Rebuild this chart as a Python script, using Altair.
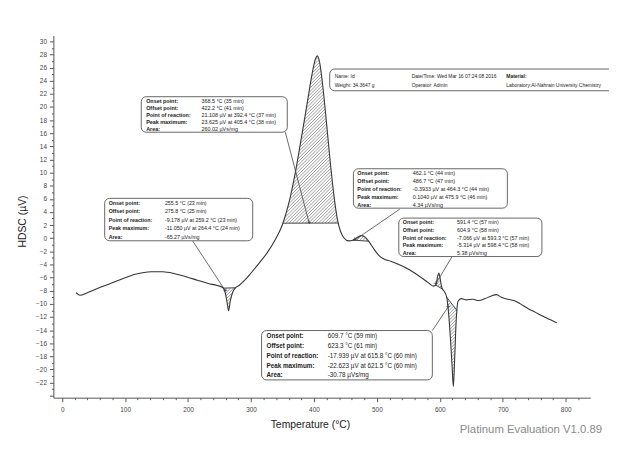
import altair as alt
import numpy as np
import pandas as pd

# ---------------- data ----------------
temperature = [22, 28, 40, 55, 74, 95, 116, 141, 160, 179, 198, 215, 232, 246, 255,
               259, 262, 264.4, 267, 271, 275, 281, 290, 300, 312, 325, 338, 350, 360, 370,
               380, 390, 397, 402, 405.4, 409, 414, 420, 426, 432, 437, 442, 448, 455, 462,
               470, 476, 482, 488, 495, 503, 512, 522, 535, 548, 560, 572, 582, 590, 594,
               596, 598.4, 600, 603, 607, 611, 614, 617, 619.5, 621.5, 623.5, 626, 629, 634, 642,
               652, 662, 672, 682, 690, 698, 708, 718, 728, 740, 752, 764, 775, 786]
hdsc = [-8.3, -8.7, -8.3, -7.7, -7.0, -6.2, -5.5, -5.1, -5.1, -5.4, -5.9, -6.4, -6.9, -7.2, -7.5,
        -8.3, -9.8, -11.05, -9.6, -8.2, -7.6, -7.2, -6.4, -5.3, -3.9, -2.3, -0.3, 2.1, 5.3, 9.8,
        15.3, 21.0, 25.0, 27.2, 27.8, 26.8, 23.2, 17.5, 11.5, 6.3, 3.0, 1.1, 0.0, -0.4, -0.3,
        0.2, 0.4, 0.1, -0.6, -1.6, -2.6, -3.2, -3.5, -4.0, -4.6, -5.3, -6.1, -6.8, -7.3, -7.1,
        -6.0, -5.3, -5.9, -7.5, -8.1, -9.0, -11.5, -15.5, -19.5, -22.6, -18.5, -12.5, -9.6, -9.2, -9.4,
        -9.3, -9.5, -9.2, -8.8, -8.6, -9.0, -9.3, -9.5, -10.0, -10.7, -11.3, -11.9, -12.4, -12.9]

# integrated (hatched) peak regions, temperature limits
region_start = [255.5, 350.6, 462.1, 593.3, 611.0]
region_end = [275.8, 438.8, 486.7, 604.9, 627.5]

# result boxes
result_labels = ["Onset point:", "Offset point:", "Point of reaction:", "Peak maximum:", "Area:"]
result_values = [
    ["368.5 °C (35 min)", "422.2 °C (41 min)", "21.108 µV at 392.4 °C (37 min)",
     "23.625 µV at 405.4 °C (38 min)", "260.02 µVs/mg"],
    ["255.5 °C (23 min)", "275.8 °C (25 min)", "-9.178 µV at 259.2 °C (23 min)",
     "-11.050 µV at 264.4 °C (24 min)", "-65.27 µVs/mg"],
    ["462.1 °C (44 min)", "486.7 °C (47 min)", "-0.3933 µV at 464.3 °C (44 min)",
     "0.1040 µV at 475.9 °C (46 min)", "4.34 µVs/mg"],
    ["591.4 °C (57 min)", "604.9 °C (58 min)", "-7.066 µV at 593.3 °C (57 min)",
     "-5.314 µV at 598.4 °C (58 min)", "5.38 µVs/mg"],
    ["609.7 °C (59 min)", "623.3 °C (61 min)", "-17.939 µV at 615.8 °C (60 min)",
     "-22.623 µV at 621.5 °C (60 min)", "-30.78 µVs/mg"],
]
# reaction points the boxes point to
reaction_T = [392.4, 259.2, 464.3, 593.3, 613.0]
reaction_V = [2.3, -8.0, -0.3, -7.0, -10.5]

# header box
header_col1 = ["Name: Id", "Weight: 34.3647 g"]
header_col2 = ["Date/Time: Wed Mar 16 07:24:08 2016", "Operator: Admin"]
header_col3 = ["Material:", "Laboratory:Al-Nahrain University Chemistry"]

# ---------------- layout (annotation placement in data units) ----------------
X_DOMAIN = [-14, 839]
Y_DOMAIN = [-24.3, 30.9]
W, H = 544, 367

box_left = [125.6, 67.5, 462.7, 534.8, 316.8]
box_right = [357.6, 302.7, 707.3, 762.2, 588.1]
box_top = [21.57, 6.08, 10.59, 3.07, -14.07]
box_bottom = [16.16, -0.39, 4.58, -2.79, -21.59]
label_x = [133.4, 73.8, 468.9, 541.1, 324.7]
value_x = [221.2, 163.2, 556.8, 627.3, 421.9]
box_font = [5.5, 5.4, 5.5, 5.4, 6.4]
anchor_T = [354.5, 207.1, 536.4, 619.5, 588.1]
anchor_V = [16.16, -0.39, 4.43, -2.79, -14.07]

hdr_box = dict(x=425.0, x2=889.0, y=25.79, y2=22.48)
hdr_cols_x = [432.9, 555.2, 705.7]
hdr_rows_y = [24.73, 23.38]

FONT = "Liberation Sans"
INK = "#333333"

xs = alt.Scale(domain=X_DOMAIN, nice=False, zero=False)
ys = alt.Scale(domain=Y_DOMAIN, nice=False, zero=False)

# ---------------- derived geometry: hatch lines ----------------
Tarr = np.array(temperature, dtype=float)
Varr = np.array(hdsc, dtype=float)
sx = W / (X_DOMAIN[1] - X_DOMAIN[0])
sy = H / (Y_DOMAIN[1] - Y_DOMAIN[0])
hatch_rows, base_rows = [], []
step = 3.3
for a, b in zip(region_start, region_end):
    ts = np.append(np.arange(a, b, 0.02), b)
    vc = np.interp(ts, Tarr, Varr)
    va, vb = vc[0], vc[-1]
    vbase = va + (vb - va) * (ts - a) / (b - a)
    lo = np.minimum(vc, vbase)
    hi = np.maximum(vc, vbase)
    cv = np.concatenate([vc * sy - ts * sx, vbase * sy - ts * sx])
    c0 = np.floor(cv.min() / step) * step
    for c in np.arange(c0, cv.max() + step, step):
        vl = (ts * sx + c) / sy
        inside = (vl >= lo) & (vl <= hi)
        if not inside.any():
            continue
        idx = np.where(inside)[0]
        br = np.where(np.diff(idx) > 1)[0]
        starts = np.concatenate([[idx[0]], idx[br + 1]])
        ends = np.concatenate([idx[br], [idx[-1]]])
        for s, e in zip(starts, ends):
            if e > s:
                hatch_rows.append({"x": ts[s], "y": vl[s], "x2": ts[e], "y2": vl[e]})
    base_rows.append({"x": a, "y": va, "x2": b, "y2": vb})
hatch_df = pd.DataFrame(hatch_rows)
base_df = pd.DataFrame(base_rows)

curve_df = pd.DataFrame({"x": temperature, "y": hdsc})

# ---------------- axes ----------------
x_axis = alt.Axis(
    values=list(range(0, 840, 20)),
    labelExpr="datum.value % 100 == 0 ? datum.label : ''",
    format="d",
    tickSize={"condition": {"test": "datum.value % 100 == 0", "value": 4}, "value": 2},
    grid=False, domainColor="#555", tickColor="#555", labelFontSize=6.5, labelColor="#444",
    labelFont=FONT, labelPadding=5, title="Temperature (°C)", titleFont=FONT,
    titleFontSize=10.5, titleFontWeight="normal", titleColor="#222",
    titleX=260, titleY=22, titleBaseline="top",
)
y_axis = alt.Axis(
    values=list(range(-24, 31)),
    labelExpr="datum.value % 2 == 0 && datum.value >= -22 ? datum.label : ''",
    format="d",
    tickSize={"condition": {"test": "datum.value % 2 == 0", "value": 4}, "value": 2},
    grid=False, domainColor="#555", tickColor="#555", labelFontSize=6.5, labelColor="#444",
    labelFont=FONT, labelPadding=3, title="HDSC (µV)", titleFont=FONT,
    titleFontSize=10.5, titleFontWeight="normal", titleColor="#222",
    titleX=-31, titleY=188, titleAlign="center", titleBaseline="middle", titleAngle=-90,
)


def X():
    return alt.X("x:Q", scale=xs, axis=x_axis, title="Temperature (°C)")


def Y():
    return alt.Y("y:Q", scale=ys, axis=y_axis, title="HDSC (µV)")


# ---------------- layers ----------------
curve = alt.Chart(curve_df).mark_line(color=INK, strokeWidth=1.1, interpolate="monotone").encode(
    x=X(), y=Y())

hatch = alt.Chart(hatch_df).mark_rule(color="#555", strokeWidth=0.6).encode(
    x=X(), y=Y(), x2="x2:Q", y2="y2:Q")
baselines = alt.Chart(base_df).mark_rule(color=INK, strokeWidth=0.9).encode(
    x=X(), y=Y(), x2="x2:Q", y2="y2:Q")

conn_df = pd.DataFrame({"x": anchor_T, "y": anchor_V, "x2": reaction_T, "y2": reaction_V})
connectors = alt.Chart(conn_df).mark_rule(color="#444", strokeWidth=0.8).encode(
    x=X(), y=Y(), x2="x2:Q", y2="y2:Q")
cross_df = pd.DataFrame({"x": reaction_T, "y": reaction_V})
crosses = alt.Chart(cross_df).mark_text(text="+", fontSize=8, color="#333", font=FONT).encode(
    x=X(), y=Y())

box_df = pd.DataFrame({"x": box_left + [hdr_box["x"]], "x2": box_right + [hdr_box["x2"]],
                       "y": box_top + [hdr_box["y"]], "y2": box_bottom + [hdr_box["y2"]]})
boxes = alt.Chart(box_df).mark_rect(fill="white", stroke="#555", strokeWidth=0.9, cornerRadius=5).encode(
    x=X(), y=Y(), x2="x2:Q", y2="y2:Q")

lab_rows, val_rows = [], []
for k in range(len(result_values)):
    sp = (box_top[k] - box_bottom[k]) / 5.0
    for i in range(5):
        yy = box_top[k] - (i + 0.55) * sp
        lab_rows.append({"x": label_x[k], "y": yy, "t": result_labels[i], "fs": box_font[k]})
        val_rows.append({"x": value_x[k], "y": yy, "t": result_values[k][i], "fs": box_font[k]})
for j, col in enumerate([header_col1, header_col2, header_col3]):
    for i, t in enumerate(col):
        row = {"x": hdr_cols_x[j], "y": hdr_rows_y[i], "t": t, "fs": 5.0}
        if j == 2 and i == 0:
            lab_rows.append(row)
        else:
            val_rows.append(row)

labels_txt = alt.Chart(pd.DataFrame(lab_rows)).mark_text(
    align="left", baseline="middle", font=FONT, fontWeight="bold", color="#222").encode(
    x=X(), y=Y(), text="t:N", size=alt.Size("fs:Q", scale=None, legend=None))
values_txt = alt.Chart(pd.DataFrame(val_rows)).mark_text(
    align="left", baseline="middle", font=FONT, color="#222").encode(
    x=X(), y=Y(), text="t:N", size=alt.Size("fs:Q", scale=None, legend=None))

footer = alt.Chart(pd.DataFrame({"t": ["Platinum Evaluation V1.0.89"]})).mark_text(
    align="right", baseline="alphabetic", font=FONT, fontSize=11.5, color="#8a8a8a").encode(
    x=alt.value(556), y=alt.value(403), text="t:N")

chart = alt.layer(curve, hatch, baselines, connectors, crosses, boxes, labels_txt, values_txt, footer).properties(
    width=W, height=H,
    padding={"left": 46, "top": 25, "right": 19, "bottom": 38},
    autosize=alt.AutoSizeParams(type="none"),
    background="white",
).configure_view(stroke=None)

chart.save("out.html", embed_options={"renderer": "svg", "actions": False})
